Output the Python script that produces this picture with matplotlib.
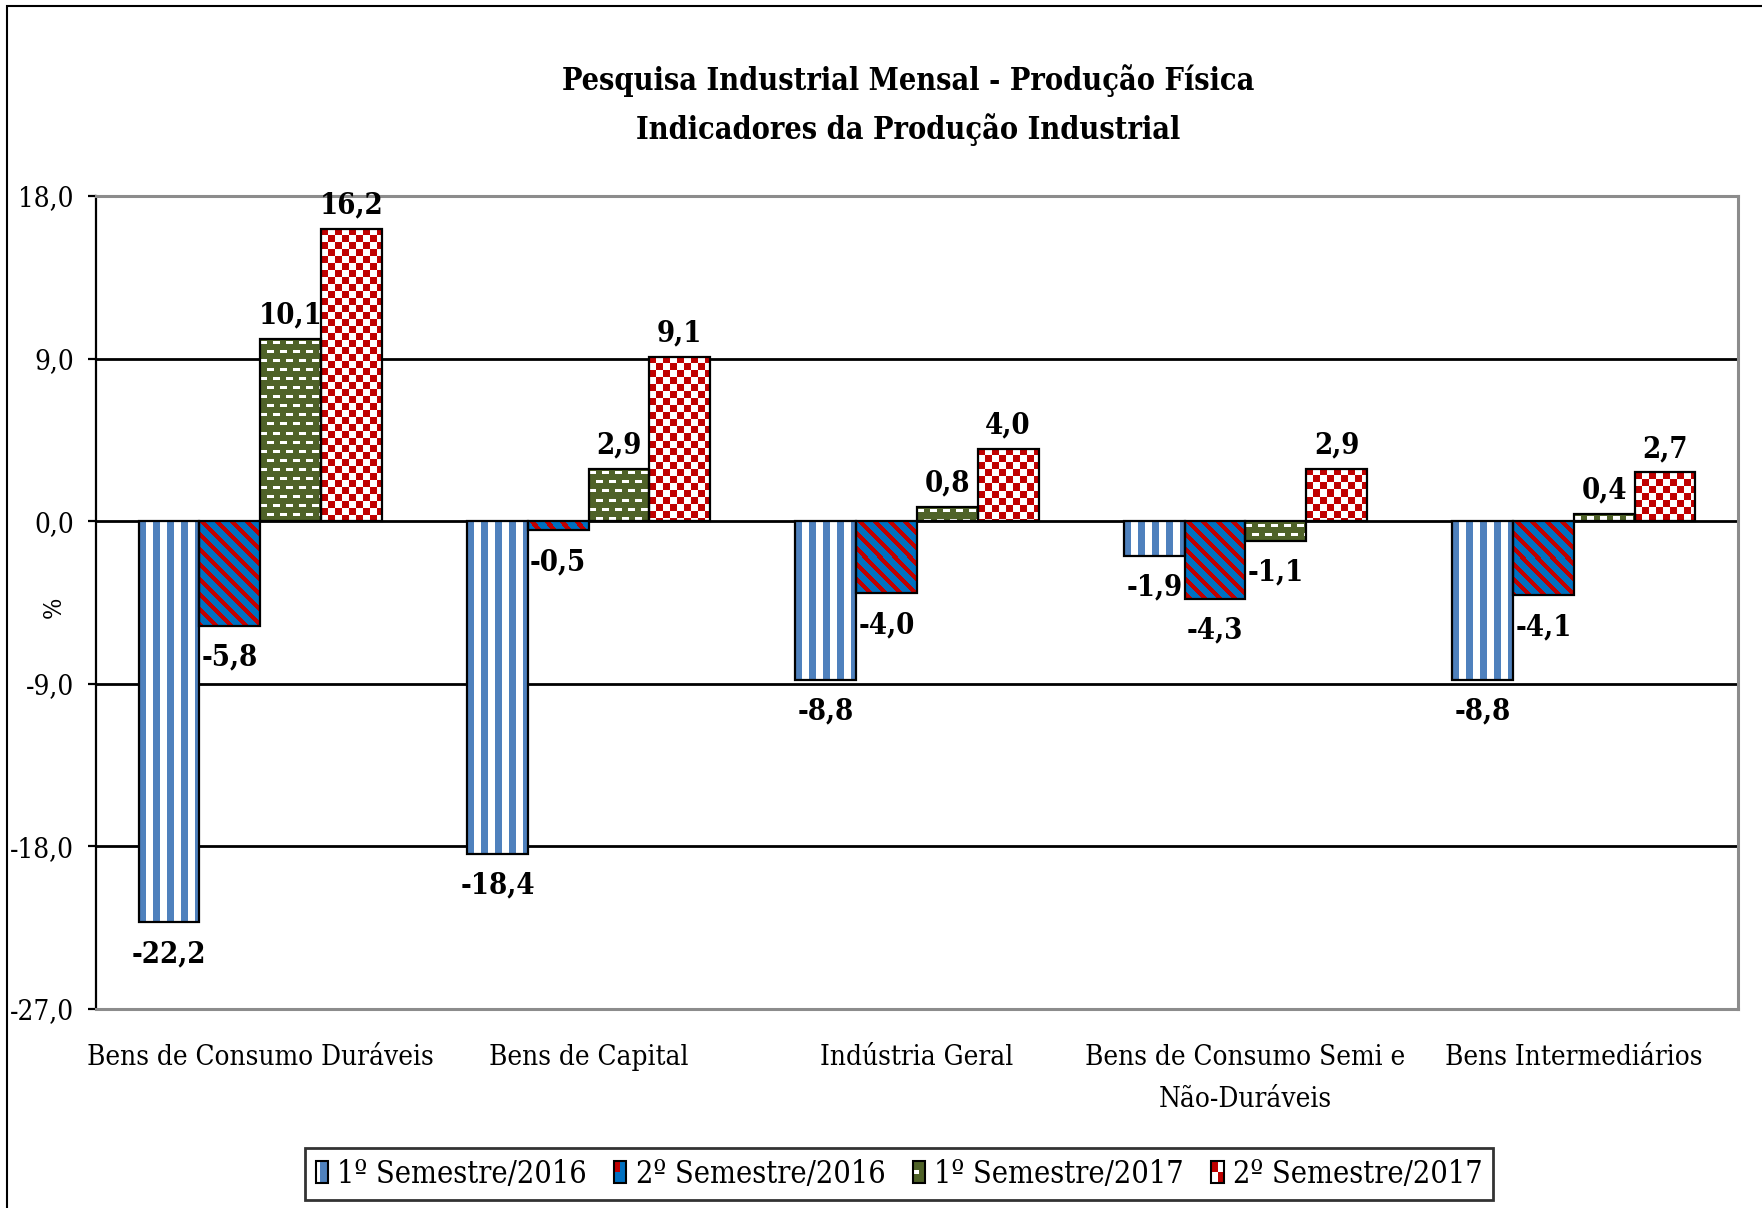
import numpy as np
import matplotlib
matplotlib.use("Agg")
import matplotlib.pyplot as plt
from matplotlib import font_manager as fm
from matplotlib.patches import Rectangle, Patch
from matplotlib.legend_handler import HandlerBase

# ---- data ----
categories = ["Bens de Consumo Duráveis", "Bens de Capital", "Indústria Geral",
              "Bens de Consumo Semi e\nNão-Duráveis", "Bens Intermediários"]
series_names = ["1º Semestre/2016", "2º Semestre/2016", "1º Semestre/2017", "2º Semestre/2017"]
sem1_2016 = [-22.2, -18.4, -8.8, -1.9, -8.8]
sem2_2016 = [-5.8, -0.5, -4.0, -4.3, -4.1]
sem1_2017 = [10.1, 2.9, 0.8, -1.1, 0.4]
sem2_2017 = [16.2, 9.1, 4.0, 2.9, 2.7]
yticks = [-27, -18, -9, 0, 9, 18]
title = "Pesquisa Industrial Mensal - Produção Física\nIndicadores da Produção Industrial"

LIGHTBLUE = np.array([79, 129, 189]) / 255
BLUE = np.array([0, 112, 192]) / 255
RED = np.array([192, 0, 0]) / 255
GREEN = np.array([79, 98, 40]) / 255
WHITE = np.array([1.0, 1.0, 1.0])

# condensed serif if there is one, else Liberation Serif
fam = "Liberation Serif"
for f in fm.fontManager.ttflist:
    if f.name == "DejaVu Serif" and "ondensed" in f.fname:
        fam = "DejaVu Serif"
        break
plt.rcParams["font.family"] = [fam, "DejaVu Sans"]
plt.rcParams["font.stretch"] = "condensed"


def texture(kind, h, w):
    # pixel pattern that fills one bar
    yy, xx = np.mgrid[0:h, 0:w]
    img = np.ones((h, w, 3))
    if kind == "vstripe":
        img[(xx % 14) < 7] = LIGHTBLUE
    elif kind == "diag":
        img[:] = BLUE
        img[((xx - yy) % 15) < 6] = RED
    elif kind == "dash":
        img[:] = GREEN
        shift = ((yy // 9) % 2) * 6
        img[(((xx + shift) % 13) < 7) & ((yy % 9) >= 3) & ((yy % 9) < 6)] = WHITE
    elif kind == "checker":
        img[((xx // 7 + yy // 7) % 2) == 0] = RED
    return img


class TextureHandler(HandlerBase):
    def create_artists(self, legend, orig_handle, xdescent, ydescent, width, height, fontsize, trans):
        kind = orig_handle.get_gid()
        x0, y0 = -xdescent, -ydescent
        arts = []
        if kind == "vstripe":
            arts.append(Rectangle((x0, y0), width, height, fc=LIGHTBLUE, ec="none", transform=trans))
            arts.append(Rectangle((x0, y0), width * 0.35, height, fc="white", ec="none", transform=trans))
        elif kind == "diag":
            arts.append(Rectangle((x0, y0), width, height, fc=BLUE, ec="none", transform=trans))
            arts.append(Rectangle((x0, y0 + height * 0.5), width * 0.5, height * 0.5, fc=RED, ec="none", transform=trans))
        elif kind == "dash":
            arts.append(Rectangle((x0, y0), width, height, fc=GREEN, ec="none", transform=trans))
            arts.append(Rectangle((x0, y0 + height * 0.4), width * 0.5, height * 0.2, fc="white", ec="none", transform=trans))
        else:
            arts.append(Rectangle((x0, y0), width, height, fc="white", ec="none", transform=trans))
            arts.append(Rectangle((x0, y0 + height * 0.5), width * 0.5, height * 0.5, fc=RED, ec="none", transform=trans))
            arts.append(Rectangle((x0 + width * 0.5, y0), width * 0.5, height * 0.5, fc=RED, ec="none", transform=trans))
        arts.append(Rectangle((x0, y0), width, height, fc="none", ec="black", lw=1.5, transform=trans))
        return arts


W, H = 1762, 1208
fig = plt.figure(figsize=(W / 100, H / 100), dpi=100)
ax = fig.add_axes([96 / W, 1 - 1009 / H, (1738 - 96) / W, (1009 - 196) / H])

# outer chart border (cut off at right and bottom)
fig.patches.append(Rectangle((7 / W, -0.1), 1.2, 0.1 + 1 - 6 / H, transform=fig.transFigure,
                             fc="none", ec="black", lw=1.5))

ax.set_xlim(-0.5, len(categories) - 0.5)
ax.set_ylim(yticks[0], yticks[-1])

kinds = ["vstripe", "diag", "dash", "checker"]
series = [sem1_2016, sem2_2016, sem1_2017, sem2_2017]
bw = 0.185
x = np.arange(len(categories))
for i, (vals, kind, name) in enumerate(zip(series, kinds, series_names)):
    pos = x + (i - 1.5) * bw
    bars = ax.bar(pos, vals, bw, facecolor="none", edgecolor="black", linewidth=1.6, zorder=3)
    for b, v in zip(bars, vals):
        x0, x1 = b.get_x(), b.get_x() + b.get_width()
        y0, y1 = sorted([0, v])
        (px0, py0), (px1, py1) = ax.transData.transform([(x0, y0), (x1, y1)])
        pw, ph = max(int(round(px1 - px0)), 1), max(int(round(py1 - py0)), 1)
        ax.imshow(texture(kind, ph, pw), extent=(x0, x1, y0, y1), origin="upper",
                  interpolation="nearest", aspect="auto", zorder=2)
        lbl = f"{v:.1f}".replace(".", ",")
        if v >= 0:
            ax.annotate(lbl, (b.get_x() + b.get_width() / 2, v), xytext=(0, 11), textcoords="offset points",
                        ha="center", va="baseline", fontsize=21, fontweight="bold", zorder=4)
        else:
            ax.annotate(lbl, (b.get_x() + b.get_width() / 2, v), xytext=(0, -12), textcoords="offset points",
                        ha="center", va="top", fontsize=21, fontweight="bold", zorder=4)

ax.set_xlim(-0.5, len(categories) - 0.5)
ax.set_ylim(yticks[0], yticks[-1])
ax.set_yticks(yticks)
ax.set_yticklabels([f"{t:.1f}".replace(".", ",") for t in yticks])
ax.set_xticks(x)
ax.set_xticklabels(categories, linespacing=1.75)
ax.tick_params(axis="x", length=0, pad=25, labelsize=20)
ax.tick_params(axis="y", direction="out", length=6, width=1.6, pad=10, labelsize=20)

ax.set_axisbelow(True)
ax.yaxis.grid(True, color="black", linewidth=2)
for s in ["top", "right", "bottom"]:
    ax.spines[s].set_color("#8c8c8c")
    ax.spines[s].set_linewidth(2.2)
ax.spines["left"].set_color("black")
ax.spines["left"].set_linewidth(1.6)

fig.text(54 / W, 1 - 607 / H, "%", rotation=90, ha="center", va="center", fontsize=18)
fig.text(908 / W, 1 - 105 / H, title, ha="center", va="center", fontsize=22,
         fontweight="bold", linespacing=1.6)

handles = [Patch(gid=k) for k in kinds]
leg = fig.legend(handles, series_names, loc="center", bbox_to_anchor=(899 / W, 1 - 1174 / H),
                 ncol=4, fontsize=22, handler_map={Patch: TextureHandler()},
                 handlelength=0.4, handleheight=0.7, handletextpad=0.3, columnspacing=0.9,
                 frameon=True, fancybox=False, edgecolor="black", borderpad=0.35)
leg.get_frame().set_linewidth(2)

fig.savefig("out.png", dpi=100)
